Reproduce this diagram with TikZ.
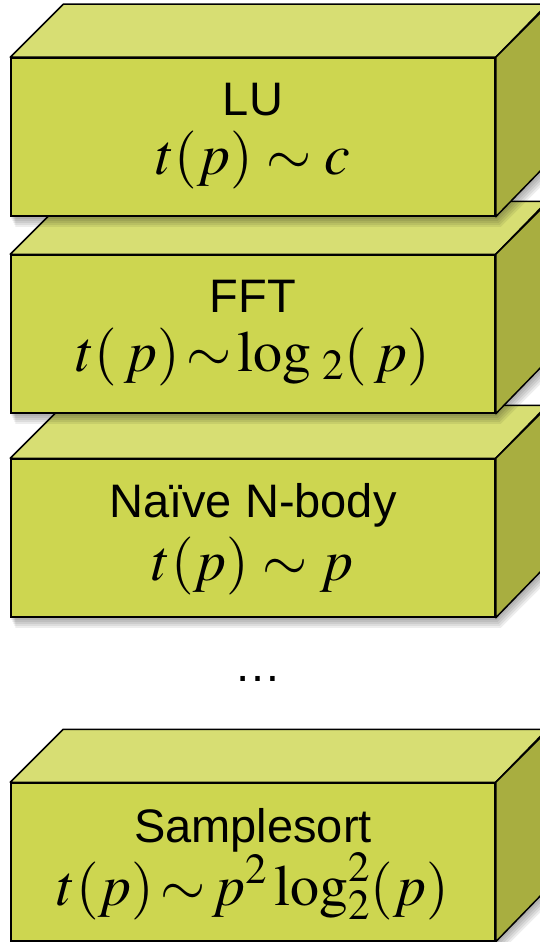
\documentclass[tikz,border=0pt]{standalone}
\usepackage{mathptmx}
\usepackage[no-math]{fontspec}
\setmainfont{Liberation Sans}
\usetikzlibrary{calc}
\definecolor{frontcol}{HTML}{CDD650}
\definecolor{topcol}{HTML}{D7DE73}
\definecolor{sidecol}{HTML}{A8AE40}
\newcommand{\namesize}{\fontsize{47}{56}\selectfont}
\newcommand{\formsize}{\fontsize{58}{64}\selectfont}
\tikzset{%
  frontface/.style={rectangle, draw=black, line width=1.5pt, fill=frontcol,
    minimum width=484pt, minimum height=158pt, inner sep=0pt},
  topface/.style={draw=black, line width=1.5pt, fill=topcol, line join=round},
  sideface/.style={draw=black, line width=1.5pt, fill=sidecol, line join=round},
  namelabel/.style={font=\namesize, inner sep=0pt, anchor=base},
  formlabel/.style={font=\formsize, inner sep=0pt, anchor=base},
  boxshadow/.style={
    preaction={fill=black, opacity=.07, transform canvas={shift={(1pt,-2pt)}}},
    preaction={fill=black, opacity=.07, transform canvas={shift={(2pt,-4pt)}}},
    preaction={fill=black, opacity=.07, transform canvas={shift={(3pt,-6pt)}}},
    preaction={fill=black, opacity=.07, transform canvas={shift={(4pt,-8pt)}}},
    preaction={fill=black, opacity=.07, transform canvas={shift={(5pt,-10pt)}}}}
}

\begin{document}
\begin{tikzpicture}[x=1pt,y=-1pt]
  \clip (0,0) rectangle (540,942);
  % samplesort
  \node[frontface] (sort) at (253,862) {};
  \path[boxshadow] (sort.south west) -- (sort.south east) -- ++(53,-53)
    -- ++(0,-158) -- ++(-484,0) -- (sort.north west) -- cycle;
  \draw[topface] (sort.north west) -- ++(53,-53) -- ++(484,0) -- (sort.north east) -- cycle;
  \draw[sideface] (sort.north east) -- ++(53,-53) -- ++(0,158) -- (sort.south east) -- cycle;
  \node[frontface] at (sort) {};
  \node[namelabel] (sortname) at ($(sort.center)+(0,-20)$) {Samplesort};
  \node[formlabel] (sortform) at ($(sort.center)+(0,43)$)
    {$t(p)\!\sim\! p^{2}\log_{2}^{2}(p)$};
  % dots
  \node[namelabel] (dots) at (258,681) {\dots};
  % n-body
  \node[frontface] (nbody) at (253,538) {};
  \path[boxshadow] (nbody.south west) -- (nbody.south east) -- ++(53,-53)
    -- ++(0,-158) -- ++(-484,0) -- (nbody.north west) -- cycle;
  \draw[topface] (nbody.north west) -- ++(53,-53) -- ++(484,0) -- (nbody.north east) -- cycle;
  \draw[sideface] (nbody.north east) -- ++(53,-53) -- ++(0,158) -- (nbody.south east) -- cycle;
  \node[frontface] at (nbody) {};
  \node[namelabel] (nbodyname) at ($(nbody.center)+(0,-21)$) {Naïve N-body};
  \node[formlabel] (nbodyform) at ($(nbody.center)+(0,42)$) {$t(p)\sim p$};
  % fft
  \node[frontface] (fft) at (253,334) {};
  \path[boxshadow] (fft.south west) -- (fft.south east) -- ++(53,-53)
    -- ++(0,-158) -- ++(-484,0) -- (fft.north west) -- cycle;
  \draw[topface] (fft.north west) -- ++(53,-53) -- ++(484,0) -- (fft.north east) -- cycle;
  \draw[sideface] (fft.north east) -- ++(53,-53) -- ++(0,158) -- (fft.south east) -- cycle;
  \node[frontface] at (fft) {};
  \node[namelabel] (fftname) at ($(fft.center)+(0,-22)$) {FFT};
  \node[formlabel] (fftform) at ($(fft.center)+(0,37)$)
    {$t(\,p)\!\sim\!\log{}_{\,2}(\,p)$};
  % lu
  \node[frontface] (lu) at (253,137) {};
  \path[boxshadow] (lu.south west) -- (lu.south east) -- ++(53,-53)
    -- ++(0,-158) -- ++(-484,0) -- (lu.north west) -- cycle;
  \draw[topface] (lu.north west) -- ++(53,-53) -- ++(484,0) -- (lu.north east) -- cycle;
  \draw[sideface] (lu.north east) -- ++(53,-53) -- ++(0,158) -- (lu.south east) -- cycle;
  \node[frontface] at (lu) {};
  \node[namelabel] (luname) at ($(lu.center)+(0,-22)$) {LU};
  \node[formlabel] (luform) at ($(lu.center)+(0,37)$) {$t(p)\sim c$};
\end{tikzpicture}
\end{document}
